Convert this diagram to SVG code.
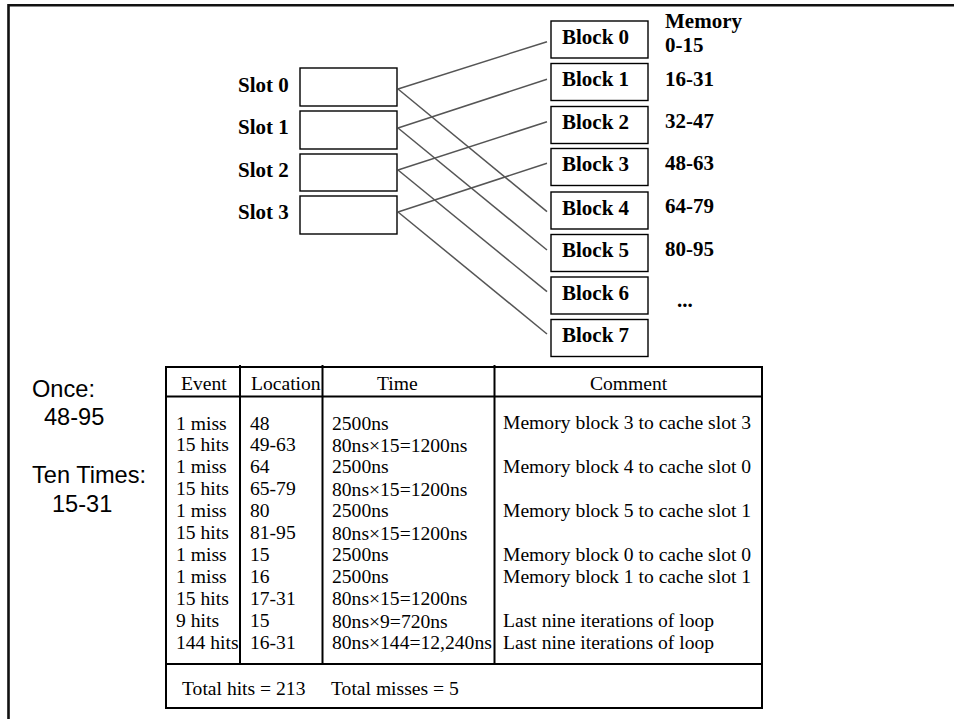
<svg xmlns="http://www.w3.org/2000/svg" width="954" height="719" viewBox="0 0 954 719">
<style>
.box{fill:#fff;stroke:#000;stroke-width:1.4}
.lbl{font-family:"Liberation Serif",serif;font-weight:bold;font-size:21px;fill:#000}
.conn{stroke:#555;stroke-width:1.5;fill:none}
.tl{stroke:#000;stroke-width:2;fill:none}
.tt{font-family:"Liberation Serif",serif;font-size:19.6px;fill:#000}
.sans{font-family:"Liberation Sans",Arial,sans-serif;font-size:23.6px;fill:#000}
</style>
<rect width="954" height="719" fill="#fff"/>
<g id="frame">
<path d="M8.5,719 V5.3 H954" stroke="#111" stroke-width="2.6" fill="none"/>
</g>
<g id="connectors">
<line class="conn" x1="398" y1="89" x2="547" y2="41.7"/>
<line class="conn" x1="398" y1="89" x2="547" y2="211.7"/>
<line class="conn" x1="398" y1="128" x2="547" y2="79.3"/>
<line class="conn" x1="398" y1="128" x2="547" y2="250"/>
<line class="conn" x1="398" y1="170" x2="547" y2="121.7"/>
<line class="conn" x1="398" y1="170" x2="547" y2="291.7"/>
<line class="conn" x1="398" y1="212" x2="547" y2="163.3"/>
<line class="conn" x1="398" y1="212" x2="547" y2="334"/>
</g>
<g id="slot0"><rect class="box" x="300" y="68" width="97" height="38"/><text class="lbl" x="238" y="92">Slot 0</text></g>
<g id="slot1"><rect class="box" x="300" y="111" width="97" height="38"/><text class="lbl" x="238" y="134">Slot 1</text></g>
<g id="slot2"><rect class="box" x="300" y="154" width="97" height="37"/><text class="lbl" x="238" y="177">Slot 2</text></g>
<g id="slot3"><rect class="box" x="300" y="196" width="97" height="38"/><text class="lbl" x="238" y="219">Slot 3</text></g>
<g id="block0"><rect class="box" x="551" y="21" width="97" height="37"/><text class="lbl" x="562" y="44">Block 0</text></g>
<g id="block1"><rect class="box" x="551" y="63.5" width="97" height="37"/><text class="lbl" x="562" y="86">Block 1</text></g>
<g id="block2"><rect class="box" x="551" y="106.5" width="97" height="37"/><text class="lbl" x="562" y="129">Block 2</text></g>
<g id="block3"><rect class="box" x="551" y="148.5" width="97" height="37"/><text class="lbl" x="562" y="171">Block 3</text></g>
<g id="block4"><rect class="box" x="551" y="192" width="97" height="37"/><text class="lbl" x="562" y="215">Block 4</text></g>
<g id="block5"><rect class="box" x="551" y="234.5" width="97" height="37"/><text class="lbl" x="562" y="257">Block 5</text></g>
<g id="block6"><rect class="box" x="551" y="277" width="97" height="37"/><text class="lbl" x="562" y="300">Block 6</text></g>
<g id="block7"><rect class="box" x="551" y="319.5" width="97" height="37"/><text class="lbl" x="562" y="342">Block 7</text></g>
<g id="memory">
<text class="lbl" x="665" y="28">Memory</text>
<text class="lbl" x="665" y="52">0-15</text>
<text class="lbl" x="665" y="86">16-31</text>
<text class="lbl" x="665" y="128">32-47</text>
<text class="lbl" x="665" y="170">48-63</text>
<text class="lbl" x="665" y="213">64-79</text>
<text class="lbl" x="665" y="256">80-95</text>
<text class="lbl" x="677" y="307">...</text>
</g>
<g id="notes">
<text class="sans" x="32" y="397">Once:</text>
<text class="sans" x="44" y="425">48-95</text>
<text class="sans" x="32" y="483">Ten Times:</text>
<text class="sans" x="52" y="512">15-31</text>
</g>
<g id="table">
<rect class="tl" x="166" y="367" width="596" height="341"/>
<line class="tl" x1="166" y1="396.5" x2="762" y2="396.5"/>
<line class="tl" x1="166" y1="664" x2="762" y2="664"/>
<line class="tl" x1="240" y1="365" x2="240" y2="664"/>
<line class="tl" x1="322.5" y1="365" x2="322.5" y2="664"/>
<line class="tl" x1="494.5" y1="365" x2="494.5" y2="664"/>
<text class="tt" x="181" y="390">Event</text>
<text class="tt" x="251" y="390">Location</text>
<text class="tt" x="377" y="390">Time</text>
<text class="tt" x="590" y="390">Comment</text>
<g class="tt">
<text x="176" y="430">1 miss</text>
<text x="176" y="451">15 hits</text>
<text x="176" y="473">1 miss</text>
<text x="176" y="495">15 hits</text>
<text x="176" y="517">1 miss</text>
<text x="176" y="539">15 hits</text>
<text x="176" y="561">1 miss</text>
<text x="176" y="583">1 miss</text>
<text x="176" y="605">15 hits</text>
<text x="176" y="627">9 hits</text>
<text x="176" y="649">144 hits</text>
<text x="250" y="430">48</text>
<text x="250" y="451">49-63</text>
<text x="250" y="473">64</text>
<text x="250" y="495">65-79</text>
<text x="250" y="517">80</text>
<text x="250" y="539">81-95</text>
<text x="250" y="561">15</text>
<text x="250" y="583">16</text>
<text x="250" y="605">17-31</text>
<text x="250" y="627">15</text>
<text x="250" y="649">16-31</text>
<text x="332" y="430">2500ns</text>
<text x="332" y="452">80ns×15=1200ns</text>
<text x="332" y="473">2500ns</text>
<text x="332" y="496">80ns×15=1200ns</text>
<text x="332" y="517">2500ns</text>
<text x="332" y="540">80ns×15=1200ns</text>
<text x="332" y="561">2500ns</text>
<text x="332" y="583">2500ns</text>
<text x="332" y="605">80ns×15=1200ns</text>
<text x="332" y="628">80ns×9=720ns</text>
<text x="332" y="649">80ns×144=12,240ns</text>
<text x="503" y="429">Memory block 3 to cache slot 3</text>
<text x="503" y="473">Memory block 4 to cache slot 0</text>
<text x="503" y="517">Memory block 5 to cache slot 1</text>
<text x="503" y="561">Memory block 0 to cache slot 0</text>
<text x="503" y="583">Memory block 1 to cache slot 1</text>
<text x="503" y="627">Last nine iterations of loop</text>
<text x="503" y="649">Last nine iterations of loop</text>
<text x="182" y="695">Total hits = 213</text>
<text x="331" y="695">Total misses = 5</text>
</g>
</g>
</svg>
